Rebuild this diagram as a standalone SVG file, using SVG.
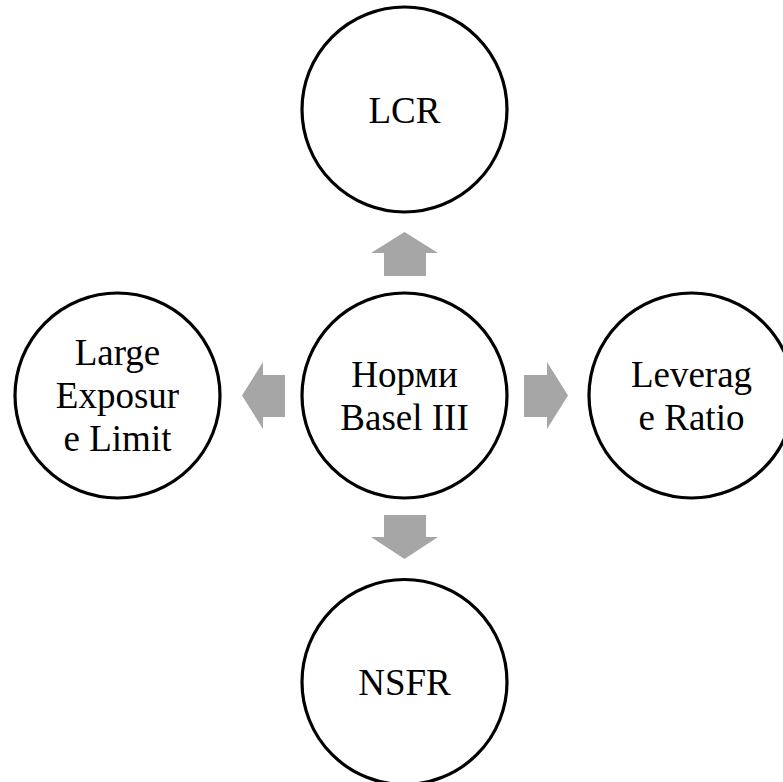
<svg xmlns="http://www.w3.org/2000/svg" width="783" height="782" viewBox="0 0 783 782">
<style>
.node circle{fill:#fff;stroke:#000;stroke-width:3.2}
.node text{font-family:"Liberation Serif","Times New Roman",serif;font-size:37px;fill:#000;text-anchor:middle}
.arrow{fill:#A6A6A6}
</style>
<rect width="783" height="782" fill="#fff"/>
<g id="connectors">
<polygon class="arrow" points="404.5,232 438,253 426,253 426,276 384,276 384,253 371,253"/>
<polygon class="arrow" points="404.5,559 438,537 426,537 426,515 384,515 384,537 371,537"/>
<polygon class="arrow" points="242,395.5 263,362 263,375 285,375 285,417 263,417 263,429"/>
<polygon class="arrow" points="568,395.5 547,362 547,375 524,375 524,417 547,417 547,429"/>
</g>
<g id="node-center" class="node">
<circle cx="404.5" cy="395.5" r="102.5"/>
<text x="404.5" y="387">Норми</text>
<text x="404.5" y="430">Basel III</text>
</g>
<g id="node-lcr" class="node">
<circle cx="404.5" cy="109.5" r="102.5"/>
<text x="404.5" y="123">LCR</text>
</g>
<g id="node-nsfr" class="node">
<circle cx="404.5" cy="682" r="102.5"/>
<text x="404.5" y="695">NSFR</text>
</g>
<g id="node-large" class="node">
<circle cx="117.5" cy="395.5" r="102.5"/>
<text x="117.5" y="365">Large</text>
<text x="117.5" y="408">Exposur</text>
<text x="117.5" y="451">e Limit</text>
</g>
<g id="node-leverage" class="node">
<circle cx="691.5" cy="395.5" r="102.5"/>
<text x="691.5" y="387">Leverag</text>
<text x="691.5" y="430">e Ratio</text>
</g>
</svg>
